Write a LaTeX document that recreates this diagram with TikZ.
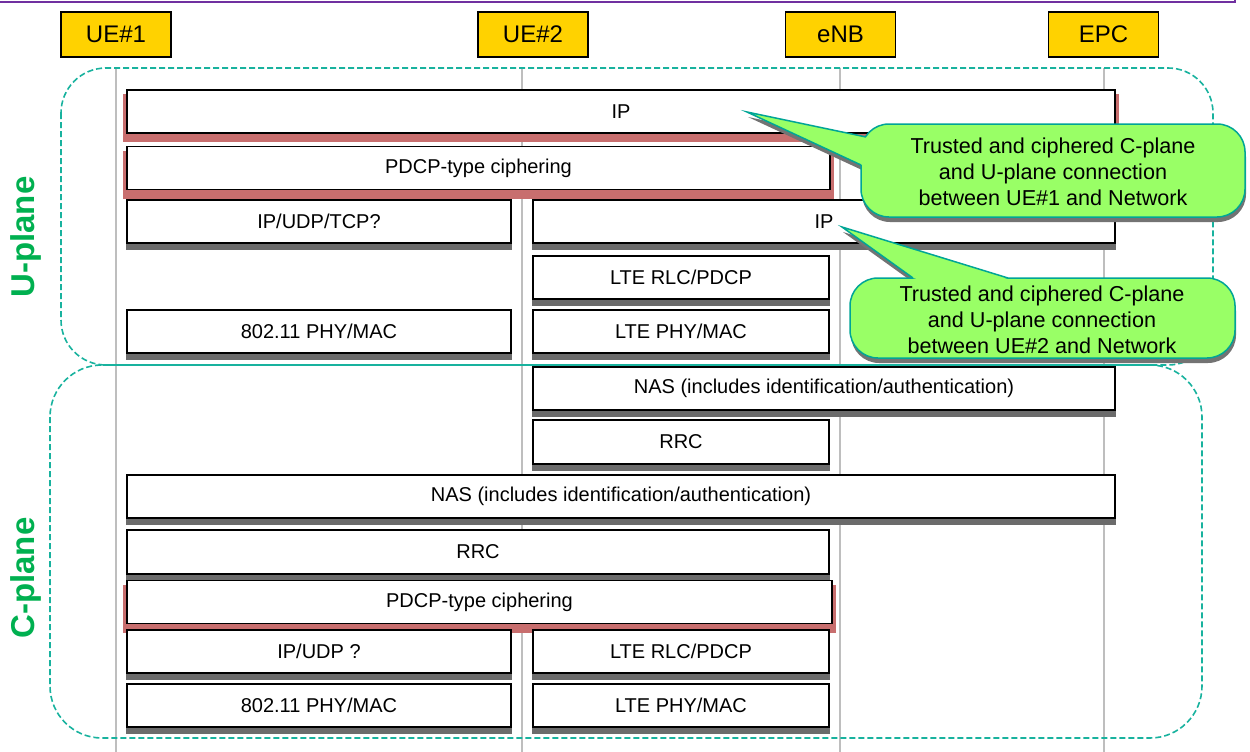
\documentclass[tikz,border=0pt]{standalone}
\usepackage{fontspec}
\setmainfont{Liberation Sans}
\pgfdeclarelayer{back}
\pgfdeclarelayer{shade}
\pgfsetlayers{back,shade,main}
\definecolor{frameteal}{RGB}{24,178,158}
\definecolor{calloutfill}{RGB}{153,255,102}
\definecolor{calloutedge}{RGB}{0,165,150}
\definecolor{hdrfill}{RGB}{255,210,0}
\definecolor{planegreen}{RGB}{0,176,80}
\definecolor{lanegray}{RGB}{190,190,190}
\definecolor{redshade}{RGB}{200,110,110}
\definecolor{topline}{RGB}{112,48,160}
\begin{document}
\begin{tikzpicture}[x=1pt,y=-1pt,
  header/.style={draw=black, line width=1.2pt, fill=hdrfill, minimum width=110pt,
    minimum height=45pt, inner sep=0pt, font=\fontsize{24}{28}\selectfont},
  layerbox/.style={draw=black, line width=1.3pt, fill=white, minimum height=43pt,
    inner sep=0pt, font=\fontsize{20}{24}\selectfont},
  frame/.style={draw=frameteal, line width=1.6pt, dash pattern=on 6pt off 3pt},
  lane/.style={draw=lanegray, line width=1.4pt},
  planelabel/.style={font=\bfseries\fontsize{33}{36}\selectfont, text=planegreen, rotate=90},
  callout/.style={fill=calloutfill, draw=calloutedge, line width=1.5pt},
  callshadow/.style={fill=black!55},
  boxshadow/.style={fill=black!58},
  callnote/.style={align=center, font=\fontsize{21.6}{26}\selectfont, inner sep=0pt},
]
\useasboundingbox (0,0) rectangle (1250,752);

% top rule
\draw[topline, line width=1.5pt] (0,2) -- (1235,2) -- (1235,0);

% column headers
\node[header] (ue1) at (116,34.5) {UE\#1};
\node[header] (ue2) at (533,34.5) {UE\#2};
\node[header] (enb) at (840.5,34.5) {eNB};
\node[header] (epc) at (1103.5,34.5) {EPC};

% lanes and plane frames
\begin{pgfonlayer}{back}
  \foreach \x in {116,522,840,1104} \draw[lane] (\x,68) -- (\x,752);
  \draw[frame, rounded corners=45pt] (61,68) rectangle (1213,365);
  \draw[frame, rounded corners=52pt] (50,365) rectangle (1202,738);
  \draw[frameteal, line width=1.6pt] (103,365) -- (1157,365);
\end{pgfonlayer}

% plane labels
\node[planelabel] (uplane) at (26,237) {U-plane};
\node[planelabel] (cplane) at (26,578) {C-plane};

% U-plane stack
\node[layerbox, minimum width=988pt] (ipA) at (621,111.5) {IP};
\node[layerbox, minimum width=703pt] (pdcpU) at (478.5,168) {PDCP-type ciphering};
\node[layerbox, minimum width=384pt] (iputcp) at (319,221.5) {IP/UDP/TCP?};
\node[layerbox, minimum width=582pt] (ipB) at (824,221.5) {IP};
\node[layerbox, minimum width=296pt] (rlcU) at (681,277.5) {LTE RLC/PDCP};
\node[layerbox, minimum width=384pt] (wifiU) at (319,331.5) {802.11 PHY/MAC};
\node[layerbox, minimum width=296pt] (phyU) at (681,331.5) {LTE PHY/MAC};

% C-plane stack
\node[layerbox, minimum width=582pt] (nasB) at (824,388.5) {NAS (includes identification/authentication)};
\node[layerbox, minimum width=296pt, minimum height=44pt] (rrcB) at (681,442) {RRC};
\node[layerbox, minimum width=988pt] (nasA) at (621,496.5) {NAS (includes identification/authentication)};
\node[layerbox, minimum width=702pt, minimum height=44pt] (rrcA) at (478,552) {RRC};
\node[layerbox, minimum width=705pt] (pdcpC) at (479.5,602) {PDCP-type ciphering};
\node[layerbox, minimum width=384pt] (ipudp) at (319,651.5) {IP/UDP ?};
\node[layerbox, minimum width=296pt] (rlcC) at (681,651.5) {LTE RLC/PDCP};
\node[layerbox, minimum width=384pt] (wifiC) at (319,705.5) {802.11 PHY/MAC};
\node[layerbox, minimum width=296pt] (phyC) at (681,705.5) {LTE PHY/MAC};

\begin{pgfonlayer}{shade}
  % grey band under the plain layers
  \foreach \n in {iputcp,ipB,rlcU,wifiU,phyU,nasB,rrcB,nasA,rrcA,ipudp,rlcC,wifiC,phyC}
    \fill[boxshadow] ([xshift=-0.6pt]\n.south west) rectangle ([xshift=0.6pt,yshift=-6pt]\n.south east);
  % red glow behind the ciphered layers
  \foreach \n in {ipA,pdcpU,pdcpC}
    \fill[redshade] ([xshift=-3pt,yshift=-5pt]\n.north west) rectangle ([xshift=3pt,yshift=-8.5pt]\n.south east);
\end{pgfonlayer}

% callout for UE#1
\begin{scope}[shift={(1,5)}]
  \fill[callshadow, rounded corners=28pt] (1000,124) -- (1245,124) -- (1245,217) -- (861,217) -- (861,124) -- cycle;
  \fill[callshadow] (747,112) -- (866,137) -- (885,150) -- (861,165) -- cycle;
\end{scope}
\draw[callout, rounded corners=28pt] (1000,124) -- (1245,124) -- (1245,217) -- (861,217) -- (861,124) -- cycle;
\fill[calloutfill] (747,112) -- (866,137) -- (885,150) -- (861,165) -- cycle;
\draw[calloutedge, line width=1.5pt] (866,137) -- (747,112) -- (861,165);
\node[callnote] (note1) at (1053,172) {Trusted and ciphered C-plane\\and U-plane connection\\between UE\#1 and Network};

% callout for UE#2
\begin{scope}[shift={(1,5)}]
  \fill[callshadow, rounded corners=28pt] (1000,278) -- (1235,278) -- (1235,358) -- (850,358) -- (850,278) -- cycle;
  \fill[callshadow] (842,227) -- (913,278) -- (1008,278) -- cycle;
\end{scope}
\draw[callout, rounded corners=28pt] (1000,278) -- (1235,278) -- (1235,358) -- (850,358) -- (850,278) -- cycle;
\fill[calloutfill] (842,227) -- (913,278) -- (960,290) -- (1008,278) -- cycle;
\draw[calloutedge, line width=1.5pt] (913,278) -- (842,227) -- (1008,278);
\node[callnote] (note2) at (1042,320) {Trusted and ciphered C-plane\\and U-plane connection\\between UE\#2 and Network};
\end{tikzpicture}
\end{document}
